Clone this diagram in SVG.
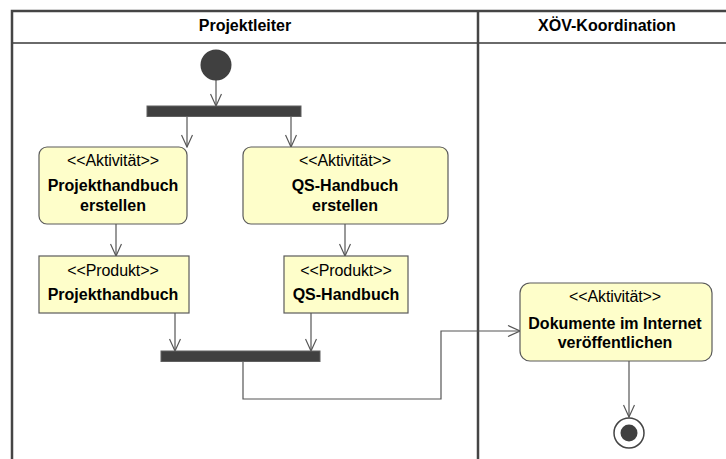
<svg xmlns="http://www.w3.org/2000/svg" width="726" height="459" viewBox="0 0 726 459">
<style>
  .lane { fill: none; stroke: #454545; stroke-width: 2.5; }
  .hdr { fill: none; stroke: #6a6a6a; stroke-width: 2; }
  .node { fill: #FEFECA; stroke: #5a5a5a; stroke-width: 1.2; }
  .bar { fill: #404040; stroke: #606060; stroke-width: 1; }
  .edge { fill: none; stroke: #555555; stroke-width: 1.2; }
  text { font-family: "Liberation Sans", Arial, sans-serif; font-size: 16px; fill: #000; text-anchor: middle; }
  .b { font-weight: bold; }
  .st { letter-spacing: -0.1px; }
</style>
<defs>
  <marker id="arr" viewBox="0 0 14 12" refX="13" refY="6" markerWidth="14" markerHeight="12" markerUnits="userSpaceOnUse" orient="auto">
    <path d="M1,0.5 L13,6 L1,11.5" fill="none" stroke="#555555" stroke-width="1.2"/>
  </marker>
</defs>
<rect width="726" height="459" fill="#ffffff"/>
<g id="swimlanes">
  <line class="hdr" x1="12" y1="43" x2="726" y2="43"/>
  <path class="lane" d="M12,459 V11 H726"/>
  <line class="lane" x1="478" y1="11" x2="478" y2="459"/>
  <text class="b" x="245" y="31">Projektleiter</text>
  <text class="b" x="607" y="31">XÖV-Koordination</text>
</g>
<g id="connectors">
  <path class="edge" d="M216,80 V106" marker-end="url(#arr)"/>
  <path class="edge" d="M187,117 V147" marker-end="url(#arr)"/>
  <path class="edge" d="M291,117 V147" marker-end="url(#arr)"/>
  <path class="edge" d="M116,224 V256" marker-end="url(#arr)"/>
  <path class="edge" d="M345,224 V256" marker-end="url(#arr)"/>
  <path class="edge" d="M175,313 V351" marker-end="url(#arr)"/>
  <path class="edge" d="M311,313 V351" marker-end="url(#arr)"/>
  <path class="edge" d="M243,361 V399 H441 V331 H520" marker-end="url(#arr)"/>
  <path class="edge" d="M629,361 V417" marker-end="url(#arr)"/>
</g>
<g id="start">
  <circle cx="216" cy="65" r="15.5" fill="#404040"/>
</g>
<g id="fork">
  <rect class="bar" x="147" y="106" width="154" height="10.5"/>
</g>
<g id="act1">
  <rect class="node" x="39" y="147" width="148" height="77" rx="8"/>
  <text class="st" x="113" y="166">&lt;&lt;Aktivität&gt;&gt;</text>
  <text class="b" x="113" y="191">Projekthandbuch</text>
  <text class="b" x="113" y="211">erstellen</text>
</g>
<g id="act2">
  <rect class="node" x="243" y="147" width="205" height="77" rx="8"/>
  <text class="st" x="345" y="166">&lt;&lt;Aktivität&gt;&gt;</text>
  <text class="b" x="345" y="191">QS-Handbuch</text>
  <text class="b" x="345" y="211">erstellen</text>
</g>
<g id="prod1">
  <rect class="node" x="39" y="256" width="150" height="57"/>
  <text class="st" x="113" y="276">&lt;&lt;Produkt&gt;&gt;</text>
  <text class="b" x="113" y="300">Projekthandbuch</text>
</g>
<g id="prod2">
  <rect class="node" x="284" y="256" width="124" height="57"/>
  <text class="st" x="346" y="276">&lt;&lt;Produkt&gt;&gt;</text>
  <text class="b" x="346" y="300">QS-Handbuch</text>
</g>
<g id="join">
  <rect class="bar" x="161" y="351" width="159" height="10.5"/>
</g>
<g id="act3">
  <rect class="node" x="520" y="283" width="192" height="78" rx="10"/>
  <text class="st" x="615" y="302">&lt;&lt;Aktivität&gt;&gt;</text>
  <text class="b" x="615" y="329">Dokumente im Internet</text>
  <text class="b" x="615" y="348">veröffentlichen</text>
</g>
<g id="end">
  <circle cx="629" cy="433" r="15" fill="#ffffff" stroke="#444444" stroke-width="1.5"/>
  <circle cx="629" cy="433" r="8.5" fill="#404040"/>
</g>
</svg>
